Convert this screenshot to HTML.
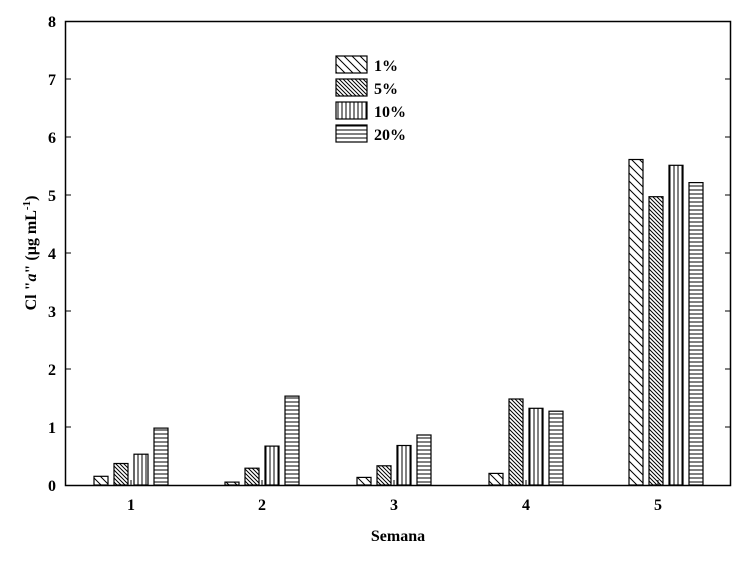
<!DOCTYPE html>
<html><head><style>body{margin:0;background:#fff}</style></head><body>
<svg width="744" height="558" xmlns="http://www.w3.org/2000/svg" font-family="Liberation Serif, serif">
<defs>
<pattern id="p1" width="8" height="8" patternUnits="userSpaceOnUse"><path d="M-2,-2 L10,10 M-2,6 L2,10 M6,-2 L10,2" stroke="#000" stroke-width="1"/></pattern>
<pattern id="p5" width="4" height="4" patternUnits="userSpaceOnUse"><path d="M-1,-1 L5,5 M-1,3 L1,5 M3,-1 L5,1" stroke="#000" stroke-width="1"/></pattern>
<pattern id="p10" width="4" height="4" patternUnits="userSpaceOnUse"><path d="M2,0 V4" stroke="#000" stroke-width="1"/></pattern>
<pattern id="p20" width="4" height="4" patternUnits="userSpaceOnUse"><path d="M0,2 H4" stroke="#000" stroke-width="1"/></pattern>
</defs>
<rect x="65.5" y="21.5" width="665" height="464" fill="none" stroke="#000" stroke-width="1.5"/>
<g stroke="#000">
<line x1="65" y1="427" x2="71" y2="427"/><line x1="65" y1="369" x2="71" y2="369"/><line x1="65" y1="311" x2="71" y2="311"/><line x1="65" y1="253" x2="71" y2="253"/><line x1="65" y1="195" x2="71" y2="195"/><line x1="65" y1="137" x2="71" y2="137"/><line x1="65" y1="79" x2="71" y2="79"/>
<line x1="725" y1="427" x2="731" y2="427"/><line x1="725" y1="369" x2="731" y2="369"/><line x1="725" y1="311" x2="731" y2="311"/><line x1="725" y1="253" x2="731" y2="253"/><line x1="725" y1="195" x2="731" y2="195"/><line x1="725" y1="137" x2="731" y2="137"/><line x1="725" y1="79" x2="731" y2="79"/>
<line x1="131" y1="485" x2="131" y2="480"/><line x1="262" y1="485" x2="262" y2="480"/><line x1="394" y1="485" x2="394" y2="480"/><line x1="526" y1="485" x2="526" y2="480"/><line x1="658" y1="485" x2="658" y2="480"/>
</g>
<g font-size="16" font-weight="bold" text-anchor="end">
<text x="56" y="27">8</text><text x="56" y="85">7</text><text x="56" y="143">6</text><text x="56" y="201">5</text><text x="56" y="259">4</text><text x="56" y="317">3</text><text x="56" y="375">2</text><text x="56" y="433">1</text><text x="56" y="491">0</text>
</g>
<g font-size="16" font-weight="bold" text-anchor="middle">
<text x="131" y="510">1</text><text x="262" y="510">2</text><text x="394" y="510">3</text><text x="526" y="510">4</text><text x="658" y="510">5</text>
<text x="398" y="541">Semana</text>
</g>
<text transform="translate(36,253) rotate(-90)" font-size="16" font-weight="bold" text-anchor="middle">Cl "<tspan font-style="italic">a</tspan>" (µg mL<tspan dy="-6" font-size="11">-1</tspan><tspan dy="6">)</tspan></text>
<g stroke="#000" stroke-width="1.2">
<rect x="94" y="476.3" width="14" height="8.7" fill="url(#p1)"/>
<rect x="114" y="463.5" width="14" height="21.5" fill="url(#p5)"/>
<rect x="134" y="454.2" width="14" height="30.8" fill="url(#p10)"/>
<rect x="154" y="428.1" width="14" height="56.9" fill="url(#p20)"/>
<rect x="225" y="482.1" width="14" height="2.9" fill="url(#p1)"/>
<rect x="245" y="468.2" width="14" height="16.8" fill="url(#p5)"/>
<rect x="265" y="446.1" width="14" height="38.9" fill="url(#p10)"/>
<rect x="285" y="396.1" width="14" height="88.9" fill="url(#p20)"/>
<rect x="357" y="477.4" width="14" height="7.6" fill="url(#p1)"/>
<rect x="377" y="465.8" width="14" height="19.2" fill="url(#p5)"/>
<rect x="397" y="445.5" width="14" height="39.5" fill="url(#p10)"/>
<rect x="417" y="435.0" width="14" height="50" fill="url(#p20)"/>
<rect x="489" y="473.4" width="14" height="11.6" fill="url(#p1)"/>
<rect x="509" y="399.0" width="14" height="86" fill="url(#p5)"/>
<rect x="529" y="408.3" width="14" height="76.7" fill="url(#p10)"/>
<rect x="549" y="411.2" width="14" height="73.8" fill="url(#p20)"/>
<rect x="629" y="159.5" width="14" height="325.5" fill="url(#p1)"/>
<rect x="649" y="196.7" width="14" height="288.3" fill="url(#p5)"/>
<rect x="669" y="165.3" width="14" height="319.7" fill="url(#p10)"/>
<rect x="689" y="182.6" width="14" height="302.4" fill="url(#p20)"/>
<rect x="336" y="56" width="31" height="17" fill="url(#p1)"/>
<rect x="336" y="79" width="31" height="17" fill="url(#p5)"/>
<rect x="336" y="102" width="31" height="17" fill="url(#p10)"/>
<rect x="336" y="125" width="31" height="17" fill="url(#p20)"/>
</g>
<g font-size="16" font-weight="bold">
<text x="374" y="71">1%</text><text x="374" y="94">5%</text><text x="374" y="117">10%</text><text x="374" y="140">20%</text>
</g>
</svg>
</body></html>
